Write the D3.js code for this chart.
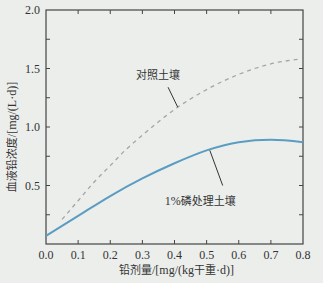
<!DOCTYPE html>
<html>
<meta charset="utf-8">
<style>
  body { margin: 0; background: #eceeec; }
  svg text { font-family: "Liberation Serif", "DejaVu Serif", serif; fill: #333; }
  svg text.cn { font-family: "Noto Sans CJK SC", sans-serif; }
  .lat { font-family: "Liberation Serif", "DejaVu Serif", serif; }
</style>
<body>
<script src="https://cdnjs.cloudflare.com/ajax/libs/d3/7.8.5/d3.min.js"></script>
<script>
// dose (x) and blood lead (y)
var phosX = [0.0, 0.1, 0.2, 0.3, 0.4, 0.5, 0.6, 0.7, 0.8];
var phosY = [0.07, 0.24, 0.41, 0.56, 0.69, 0.80, 0.87, 0.89, 0.87];
var ctrlX = [0.05, 0.1, 0.15, 0.2, 0.25, 0.3, 0.4, 0.5, 0.6, 0.7, 0.79];
var ctrlY = [0.21, 0.37, 0.53, 0.67, 0.81, 0.93, 1.15, 1.32, 1.45, 1.54, 1.58];
var xTicks = [0, 0.1, 0.2, 0.3, 0.4, 0.5, 0.6, 0.7, 0.8];
var yTicks = [0.5, 1.0, 1.5, 2.0];
var yMinor = [0.25, 0.5, 0.75, 1.0, 1.25, 1.5, 1.75];

var width = 323, height = 283;
var margin = {top: 10, right: 20, bottom: 39, left: 46};
var serif = '"Liberation Serif", "DejaVu Serif", serif';

var x = d3.scaleLinear().domain([0, 0.8]).range([margin.left, width - margin.right]);
var y = d3.scaleLinear().domain([0, 2]).range([height - margin.bottom, margin.top]);

var svg = d3.select('body').append('svg')
  .attr('width', width)
  .attr('height', height);

// frame
svg.append('rect')
  .attr('x', x(0)).attr('y', y(2))
  .attr('width', x(0.8) - x(0)).attr('height', y(0) - y(2))
  .style('fill', 'none').style('stroke', '#444').style('stroke-width', 1.2);

var tl = 4;
// x ticks, bottom and top, pointing inwards
svg.append('g').selectAll('line').data(xTicks.slice(1, -1)).enter().append('line')
  .attr('x1', function(d) { return x(d); }).attr('x2', function(d) { return x(d); })
  .attr('y1', y(0)).attr('y2', y(0) - tl)
  .style('stroke', '#444');
svg.append('g').selectAll('line').data(xTicks.slice(1, -1)).enter().append('line')
  .attr('x1', function(d) { return x(d); }).attr('x2', function(d) { return x(d); })
  .attr('y1', y(2)).attr('y2', y(2) + tl)
  .style('stroke', '#444');
// y ticks, left and right
svg.append('g').selectAll('line').data(yMinor).enter().append('line')
  .attr('x1', x(0)).attr('x2', x(0) + tl)
  .attr('y1', function(d) { return y(d); }).attr('y2', function(d) { return y(d); })
  .style('stroke', '#444');
svg.append('g').selectAll('line').data(yMinor).enter().append('line')
  .attr('x1', x(0.8)).attr('x2', x(0.8) - tl)
  .attr('y1', function(d) { return y(d); }).attr('y2', function(d) { return y(d); })
  .style('stroke', '#444');

// tick labels
svg.append('g').selectAll('text').data(xTicks).enter().append('text')
  .attr('x', function(d) { return x(d); })
  .attr('y', y(0) + 15)
  .attr('text-anchor', 'middle')
  .style('font-family', serif)
  .style('font-size', '12px')
  .text(function(d) { return d3.format('.1f')(d); });
svg.append('g').selectAll('text').data(yTicks).enter().append('text')
  .attr('x', x(0) - 6)
  .attr('y', function(d) { return y(d); })
  .attr('dy', '0.35em')
  .attr('text-anchor', 'end')
  .style('font-family', serif)
  .style('font-size', '12px')
  .text(function(d) { return d3.format('.1f')(d); });

// axis titles (latin parts in serif so the middle dot stays narrow)
var xt = svg.append('text')
  .attr('class', 'cn')
  .attr('x', (x(0) + x(0.8)) / 2 + 2)
  .attr('y', height - 9)
  .attr('text-anchor', 'middle')
  .style('font-size', '11px');
xt.append('tspan').text('铅剂量');
xt.append('tspan').attr('class', 'lat').style('font-family', serif).style('font-size', '12px').text('/[mg/(kg');
xt.append('tspan').text('干重');
xt.append('tspan').attr('class', 'lat').style('font-family', serif).style('font-size', '12px').text('·d)]');

var yt = svg.append('text')
  .attr('class', 'cn')
  .attr('transform', 'translate(16,' + ((y(0) + y(2)) / 2 + 10) + ') rotate(-90)')
  .attr('text-anchor', 'middle')
  .style('font-size', '11px');
yt.append('tspan').text('血液铅浓度');
yt.append('tspan').attr('class', 'lat').style('font-family', serif).style('font-size', '12px').text('/[mg/(L·d)]');

var line = d3.line()
  .x(function(d) { return x(d[0]); })
  .y(function(d) { return y(d[1]); })
  .curve(d3.curveMonotoneX);

svg.append('path')
  .datum(d3.zip(ctrlX, ctrlY))
  .attr('d', line)
  .style('fill', 'none')
  .style('stroke', '#a3a6a8')
  .style('stroke-width', 1.3)
  .style('stroke-dasharray', '4,4');

svg.append('path')
  .datum(d3.zip(phosX, phosY))
  .attr('d', line)
  .style('fill', 'none')
  .style('stroke', '#5b9dc2')
  .style('stroke-width', 2);

// annotations
svg.append('text')
  .attr('class', 'cn')
  .attr('x', x(0.28)).attr('y', y(1.5) + 10)
  .style('font-size', '11px')
  .text('对照土壤');
svg.append('line')
  .attr('x1', x(0.38)).attr('y1', y(1.34))
  .attr('x2', x(0.41)).attr('y2', y(1.17))
  .style('stroke', '#333');

var pt = svg.append('text')
  .attr('class', 'cn')
  .attr('x', x(0.37)).attr('y', y(0.37) + 4)
  .style('font-size', '11px');
pt.append('tspan').attr('class', 'lat').style('font-family', serif).style('font-size', '12px').text('1%');
pt.append('tspan').text('磷处理土壤');
svg.append('line')
  .attr('x1', x(0.51)).attr('y1', y(0.80))
  .attr('x2', x(0.55)).attr('y2', y(0.50))
  .style('stroke', '#333');
</script>
</body>
</html>
